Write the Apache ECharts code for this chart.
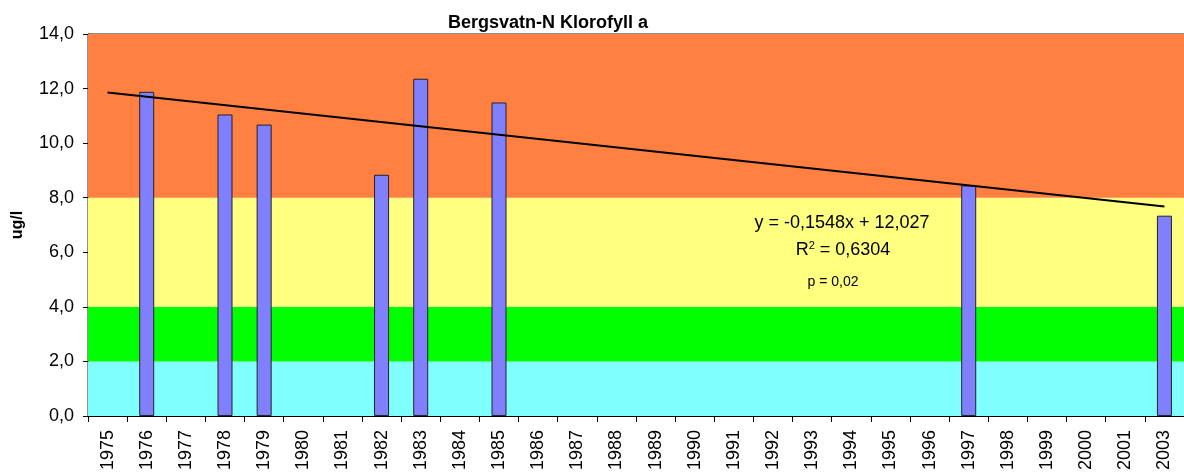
<!DOCTYPE html>
<html>
<head>
<meta charset="utf-8">
<script src="https://cdn.jsdelivr.net/npm/echarts@6/dist/echarts.min.js"></script>
<style>
html,body{margin:0;padding:0;background:#fff;}
#chart{width:1184px;height:473px;}
</style>
</head>
<body>
<div id="chart"></div>
<script>
// ---- data ----
const years = ['1975','1976','1977','1978','1979','1980','1981','1982','1983','1984','1985','1986','1987','1988','1989','1990','1991','1992','1993','1994','1995','1996','1997','1998','1999','2000','2001','2003'];
const chlA = [null,11.88,null,11.05,10.68,null,null,8.84,12.36,null,11.49,null,null,null,null,null,null,null,null,null,null,null,8.45,null,null,null,null,7.34];
const trendYears = ['1975','2003'];
const trendValues = [11.86, 7.68];
const bandLimits = [0, 2, 4, 8, 14];
const bandColors = ['#80FFFF', '#00FF00', '#FFFF80', '#FF8040'];
const yTicks = [0, 2, 4, 6, 8, 10, 12, 14];
const titleText = 'Bergsvatn-N Klorofyll a';
const yName = 'ug/l';
const eqText = 'y = -0,1548x + 12,027';
const r2Value = '0,6304';
const pText = 'p = 0,02';

const chart = echarts.init(document.getElementById('chart'), null, {renderer:'canvas'});
const FONT = '"Liberation Sans", Arial, sans-serif';

const bands = [];
for (let i = 0; i < bandColors.length; i++) {
  bands.push([{yAxis: bandLimits[i], itemStyle:{color: bandColors[i], opacity:1}}, {yAxis: bandLimits[i+1]}]);
}

chart.setOption({
  animation: false,
  title: {
    text: titleText, left: 543, top: 9, textAlign: 'center',
    textStyle: {fontFamily: FONT, fontWeight: 'bold', fontSize: 18, color: '#000'}
  },
  grid: {left: 88, top: 34, bottom: 57, right: -4, show: true, borderColor: '#222', borderWidth: 1, backgroundColor: 'transparent'},
  xAxis: {
    type: 'category', data: years, boundaryGap: true,
    axisLine: {lineStyle: {color: '#000', width: 1}},
    axisTick: {show: true, interval: 0, length: 6, lineStyle: {color: '#000'}},
    axisLabel: {interval: 0, rotate: 90, fontFamily: FONT, fontSize: 18, color: '#000', margin: 14},
    splitLine: {show: false}
  },
  yAxis: {
    type: 'value', min: yTicks[0], max: yTicks[yTicks.length-1], interval: 2,
    name: yName, nameLocation: 'middle', nameRotate: 90, nameGap: 62,
    nameTextStyle: {fontFamily: FONT, fontWeight: 'bold', fontSize: 16, color: '#000'},
    axisLine: {show: true, lineStyle: {color: '#000', width: 1}},
    axisTick: {show: true, length: 5, lineStyle: {color: '#000'}},
    axisLabel: {fontFamily: FONT, fontSize: 18, color: '#000', margin: 14,
      formatter: v => v.toFixed(1).replace('.', ',')},
    splitLine: {show: false}
  },
  series: [
    {
      type: 'line', data: [], z: 1, silent: true,
      markArea: {silent: true, data: bands}
    },
    {
      type: 'bar', data: chlA, z: 2, barWidth: 15,
      itemStyle: {color: '#8080FF', borderColor: '#222', borderWidth: 1}
    },
    {
      type: 'line', z: 3, symbol: 'none', silent: true,
      data: trendYears.map((y, i) => [y, trendValues[i]]),
      lineStyle: {color: '#000', width: 2}
    }
  ],
  graphic: [
    {type: 'text', x: 842, y: 223, z: 10, style: {text: eqText, fontFamily: FONT, fontSize: 18, fill: '#000', textAlign: 'center', textVerticalAlign: 'middle'}},
    {type: 'text', x: 843, y: 250, z: 10, style: {
      text: '{n|R}{s|2}{n| = ' + r2Value + '}',
      textAlign: 'center', textVerticalAlign: 'middle',
      rich: {n: {fontFamily: FONT, fontSize: 18, color:'#000'}, s: {fontFamily: FONT, fontSize: 11, color: '#000', verticalAlign: 'top', padding:[0,0,8,0]}}
    }},
    {type: 'text', x: 833, y: 282, z: 10, style: {text: pText, fontFamily: FONT, fontSize: 14, fill: '#000', textAlign: 'center', textVerticalAlign: 'middle'}}
  ]
});
</script>
</body>
</html>
